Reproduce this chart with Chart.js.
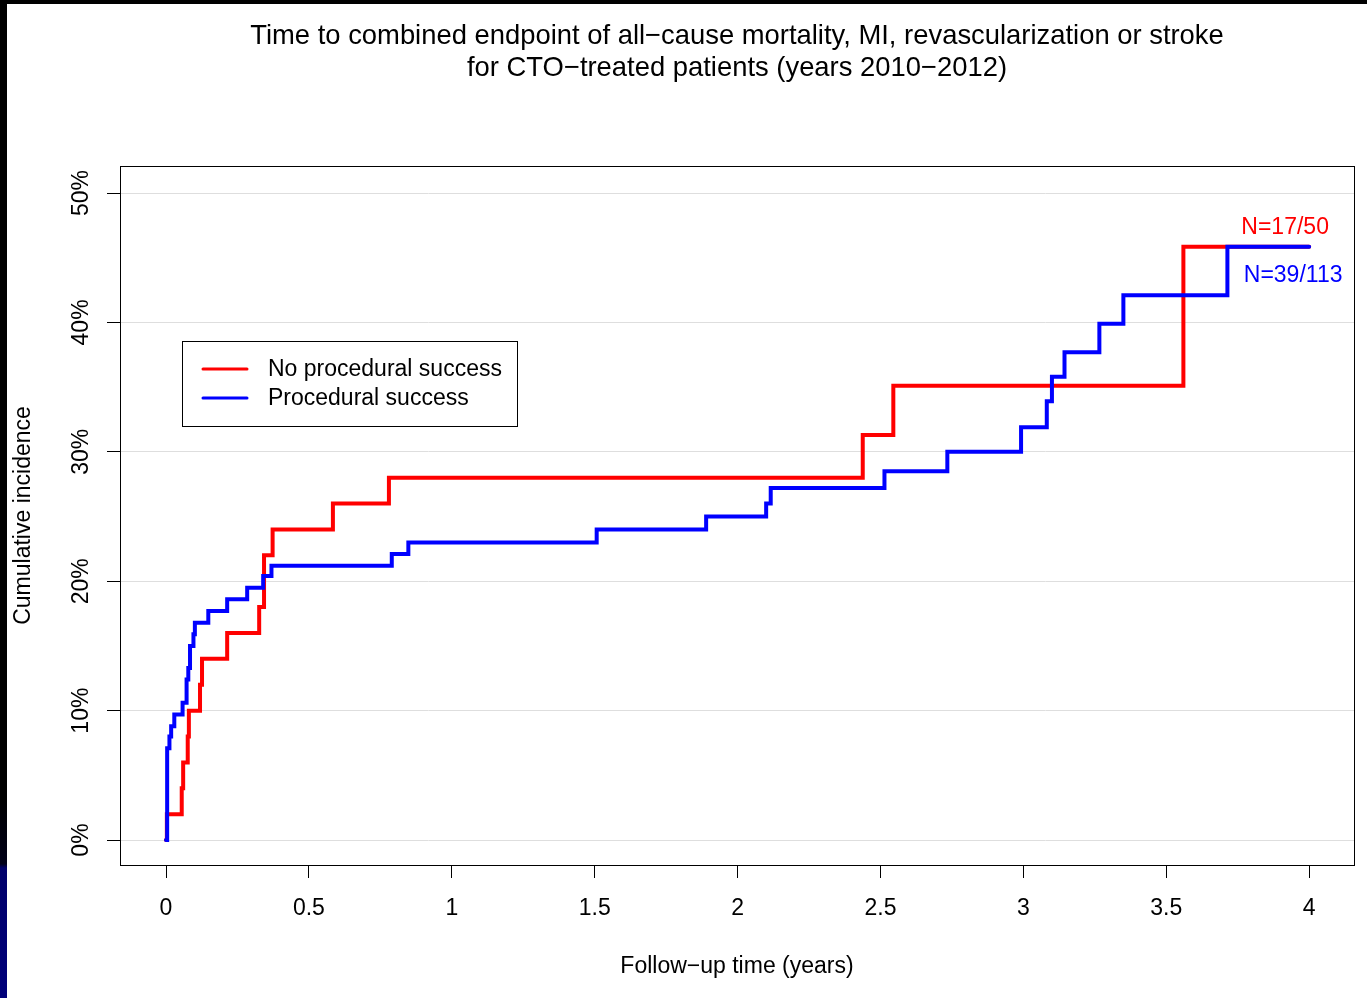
<!DOCTYPE html>
<html>
<head>
<meta charset="utf-8">
<script src="https://cdn.jsdelivr.net/npm/chart.js@4/dist/chart.umd.min.js"></script>
<style>
  html, body { margin: 0; padding: 0; background: #fff; }
  body { width: 1367px; height: 998px; position: relative; overflow: hidden; }
  .edgeTop { position: absolute; left: 0; top: 0; width: 1367px; height: 4px; background: #000; }
  .edgeLeft { position: absolute; left: 0; top: 0; width: 7px; height: 998px;
    background: linear-gradient(to bottom, #000 0px, #000 800px, #000018 864px, #00006a 868px, #00007a 998px); }
  #chart { position: absolute; left: 0; top: 0; }
</style>
</head>
<body>
<div class="edgeTop"></div>
<div class="edgeLeft"></div>
<canvas id="chart" width="1367" height="998"></canvas>
<script>
// Kaplan-Meier style cumulative incidence (years, %)
const noSuccessTimes = [0, 0.003, 0.055, 0.060, 0.076, 0.080, 0.119, 0.126, 0.214, 0.326, 0.343, 0.373, 0.584, 0.780, 2.438, 2.545, 3.560, 4.0];
const noSuccessValues = [0, 2, 4, 6, 8, 10, 12, 14, 16, 18, 22, 24, 26, 28, 31.3, 35.1, 45.85, 45.85];

const successTimes = [0, 0.004, 0.012, 0.018, 0.029, 0.058, 0.072, 0.078, 0.084, 0.096, 0.101, 0.148, 0.214, 0.284, 0.340, 0.369,
  0.790, 0.848, 1.507, 1.890, 2.100, 2.116, 2.514, 2.734, 2.992, 3.082, 3.100, 3.144, 3.266, 3.350, 3.714, 4.0];
const successValues = [0, 7.1, 8.0, 8.8, 9.7, 10.6, 12.4, 13.3, 15.0, 15.9, 16.8, 17.7, 18.6, 19.5, 20.4, 21.2,
  22.1, 23.0, 24.0, 25.0, 26.0, 27.2, 28.5, 30.0, 31.9, 33.9, 35.8, 37.7, 39.9, 42.1, 45.85, 45.85];

const xTicks = [0, 0.5, 1, 1.5, 2, 2.5, 3, 3.5, 4];
const yTicks = [0, 10, 20, 30, 40, 50];

const seriesNames = ['No procedural success', 'Procedural success'];
const seriesColors = ['#ff0000', '#0000ff'];
const countLabels = ['N=17/50', 'N=39/113'];

const FONT = "'Liberation Sans', Arial, sans-serif";

function toPoints(times, values) {
  return times.map((t, i) => ({ x: t, y: values[i] }));
}

// Frame around the plot region, like R's box()
const boxPlugin = {
  id: 'box',
  afterDraw(chart) {
    const { ctx, chartArea: a } = chart;
    ctx.save();
    ctx.strokeStyle = '#000';
    ctx.lineWidth = 1;
    ctx.strokeRect(Math.round(a.left) + 0.5, Math.round(a.top) + 0.5, Math.round(a.right - a.left), Math.round(a.bottom - a.top));
    ctx.restore();
  }
};

// Legend box in the upper left of the plot
const legendPlugin = {
  id: 'boxLegend',
  afterDraw(chart) {
    const { ctx, chartArea: a } = chart;
    const left = a.left + 62, top = a.top + 175, w = 335, h = 85;
    ctx.save();
    ctx.fillStyle = '#fff';
    ctx.fillRect(left, top, w, h);
    ctx.strokeStyle = '#000';
    ctx.lineWidth = 1;
    ctx.strokeRect(left + 0.5, top + 0.5, w, h);
    ctx.font = '23px ' + FONT;
    ctx.textBaseline = 'middle';
    seriesNames.forEach((name, i) => {
      const y = top + 28 + i * 29;
      ctx.strokeStyle = seriesColors[i];
      ctx.lineWidth = 3;
      ctx.lineCap = 'round';
      ctx.beginPath();
      ctx.moveTo(left + 21, y);
      ctx.lineTo(left + 65, y);
      ctx.stroke();
      ctx.fillStyle = '#000';
      ctx.fillText(name, left + 86, y + 1);
    });
    ctx.restore();
  }
};

// Number-at-risk labels at the right end of each curve
const countPlugin = {
  id: 'counts',
  afterDatasetsDraw(chart) {
    const { ctx, scales: { x, y } } = chart;
    const anchors = [[3.916, 47.3], [3.944, 43.65]];
    ctx.save();
    ctx.font = '23px ' + FONT;
    ctx.textAlign = 'center';
    ctx.textBaseline = 'middle';
    countLabels.forEach((txt, i) => {
      ctx.fillStyle = seriesColors[i];
      ctx.fillText(txt, x.getPixelForValue(anchors[i][0]), y.getPixelForValue(anchors[i][1]));
    });
    ctx.restore();
  }
};

new Chart(document.getElementById('chart'), {
  type: 'line',
  data: {
    datasets: [
      { label: seriesNames[1], data: toPoints(successTimes, successValues), borderColor: seriesColors[1],
        borderWidth: 4, stepped: 'before', pointRadius: 0, borderCapStyle: 'round', borderJoinStyle: 'miter', fill: false },
      { label: seriesNames[0], data: toPoints(noSuccessTimes, noSuccessValues), borderColor: seriesColors[0],
        borderWidth: 4, stepped: 'before', pointRadius: 0, borderCapStyle: 'round', borderJoinStyle: 'miter', fill: false },
    ]
  },
  options: {
    responsive: false,
    animation: false,
    devicePixelRatio: 1,
    layout: { padding: { left: 0, right: 13, top: 0, bottom: 0 } },
    plugins: {
      legend: { display: false },
      tooltip: { enabled: false },
      title: {
        display: true,
        fullSize: false,
        text: ['Time to combined endpoint of all\u2212cause mortality, MI, revascularization or stroke',
               'for CTO\u2212treated patients (years 2010\u22122012)'],
        color: '#000',
        font: { family: FONT, size: 27.4, weight: 'normal', lineHeight: 32 / 27.4 },
        padding: { top: 20, bottom: 82 }
      }
    },
    scales: {
      x: {
        type: 'linear',
        min: -0.161,
        max: 4.157,
        afterBuildTicks: s => { s.ticks = xTicks.map(v => ({ value: v })); },
        afterFit: s => { s.height = 133; },
        border: { display: false },
        grid: { drawOnChartArea: false, tickLength: 13, tickColor: '#000', tickWidth: 1 },
        ticks: { color: '#000', padding: 17, font: { family: FONT, size: 23, lineHeight: 1.2 }, maxRotation: 0, callback: v => String(v) },
        title: { display: true, text: 'Follow\u2212up time (years)', color: '#000',
          font: { family: FONT, size: 23, lineHeight: 1.2 }, padding: { top: 0, bottom: 18 } }
      },
      y: {
        type: 'linear',
        min: -1.93,
        max: 52.09,
        afterBuildTicks: s => { s.ticks = yTicks.map(v => ({ value: v })); },
        afterFit: s => { s.width = 120; },
        border: { display: false },
        grid: { color: '#dedede', lineWidth: 1, tickLength: 13, tickColor: '#000', tickWidth: 1 },
        ticks: { color: '#000', padding: 2, minRotation: 90, maxRotation: 90, crossAlign: 'center',
          font: { family: FONT, size: 23, lineHeight: 1.2 }, callback: v => v + '%' },
        title: { display: true, text: 'Cumulative incidence', color: '#000',
          font: { family: FONT, size: 23, lineHeight: 1.2 }, padding: { top: 10, bottom: 0 } }
      }
    }
  },
  plugins: [boxPlugin, legendPlugin, countPlugin]
});
</script>
</body>
</html>
